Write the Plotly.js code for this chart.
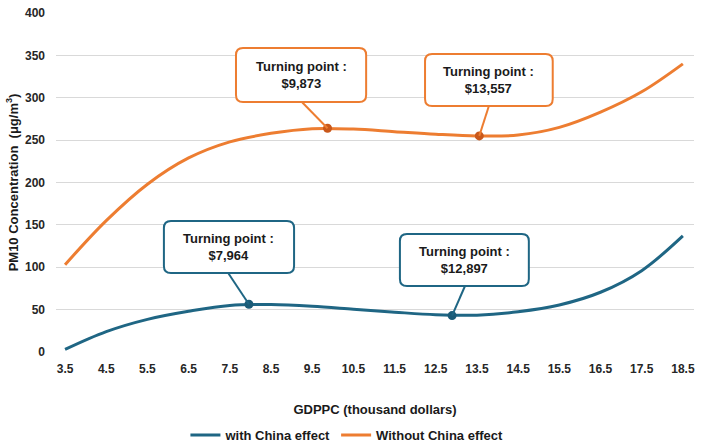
<!DOCTYPE html>
<html>
<head>
<meta charset="utf-8">
<script src="https://cdn.plot.ly/plotly-3.0.1.min.js"></script>
<style>html,body{margin:0;padding:0;background:#fff;}#chart{width:703px;height:447px;}</style>
</head>
<body>
<div id="chart"></div>
<script>
// ---- data ----
const gdppc = [3.5, 4.5, 5.5, 6.5, 7.5, 8.5, 9.5, 10.5, 11.5, 12.5, 13.5, 14.5, 15.5, 16.5, 17.5, 18.5];
const withChina = [3, 24, 38.5, 48, 55, 56, 54, 50.5, 47, 44, 43.5, 47.5, 55.5, 70.5, 96, 137];
const withoutChina = [103, 155, 198, 229, 248, 258, 263.5, 263, 260, 257, 255, 256, 265, 283, 307, 340];
const seriesNames = ["with China effect", "Without China effect"];
const turnWithX = [7.964, 12.897];
const turnWithY = [56.3, 43];
const turnWithoutX = [9.873, 13.557];
const turnWithoutY = [264, 255];
const turnWithLabels = ["Turning point :<br>$7,964", "Turning point :<br>$12,897"];
const turnWithoutLabels = ["Turning point :<br>$9,873", "Turning point :<br>$13,557"];
const yTicks = [0, 50, 100, 150, 200, 250, 300, 350, 400];

// ---- styles ----
const BLUE = "#1f6684";
const BLUE_DARK = "#1b5b77";
const ORANGE = "#ed7d31";
const ORANGE_DARK = "#c9581b";
const FONT = "'Liberation Sans Narrow', 'Arial Narrow', 'Liberation Sans', Arial, sans-serif";

// callout boxes (placement of the boxes in data coordinates)
const callouts = [
  {box: [7.65, 10.81, 295, 358.7], tail: [9.25, 295], tx: 9.23, ty: 327, color: ORANGE, px: turnWithoutX[0], py: turnWithoutY[0], text: turnWithoutLabels[0]},
  {box: [12.24, 15.34, 290.3, 351.6], tail: [13.79, 290.3], tx: 13.79, ty: 321, color: ORANGE, px: turnWithoutX[1], py: turnWithoutY[1], text: turnWithoutLabels[1]},
  {box: [5.90, 9.06, 93.2, 154.6], tail: [7.46, 93.2], tx: 7.48, ty: 124, color: BLUE, px: turnWithX[0], py: turnWithY[0], text: turnWithLabels[0]},
  {box: [11.63, 14.76, 77.9, 139.2], tail: [13.21, 77.9], tx: 13.2, ty: 108.6, color: BLUE, px: turnWithX[1], py: turnWithY[1], text: turnWithLabels[1]}
];

function roundRect(x0, x1, y0, y1, rx, ry) {
  return `M ${x0+rx},${y1} L ${x1-rx},${y1} Q ${x1},${y1} ${x1},${y1-ry} L ${x1},${y0+ry} Q ${x1},${y0} ${x1-rx},${y0} L ${x0+rx},${y0} Q ${x0},${y0} ${x0},${y0+ry} L ${x0},${y1-ry} Q ${x0},${y1} ${x0+rx},${y1} Z`;
}

const traces = [
  {x: gdppc, y: withChina, name: seriesNames[0], type: "scatter", mode: "lines",
   line: {color: BLUE, width: 3, shape: "spline", smoothing: 1}},
  {x: gdppc, y: withoutChina, name: seriesNames[1], type: "scatter", mode: "lines",
   line: {color: ORANGE, width: 3, shape: "spline", smoothing: 1}},
  {x: turnWithX, y: turnWithY, type: "scatter", mode: "markers", showlegend: false, hoverinfo: "skip",
   marker: {color: BLUE_DARK, size: 9}},
  {x: turnWithoutX, y: turnWithoutY, type: "scatter", mode: "markers", showlegend: false, hoverinfo: "skip",
   marker: {color: ORANGE_DARK, size: 9}}
];

const shapes = [];
const annotations = [];
callouts.forEach(c => {
  shapes.push({type: "line", xref: "x", yref: "y", x0: c.tail[0], y0: c.tail[1], x1: c.px, y1: c.py,
    line: {color: c.color, width: 2}, layer: "above"});
  shapes.push({type: "path", xref: "x", yref: "y", path: roundRect(c.box[0], c.box[1], c.box[2], c.box[3], 0.17, 8.3),
    line: {color: c.color, width: 2}, fillcolor: "#ffffff", layer: "above"});
  annotations.push({x: c.tx, y: c.ty, xref: "x", yref: "y", text: "<b>" + c.text.replace("<br>", "</b><br><b>") + "</b>",
    showarrow: false, font: {family: FONT, size: 13, color: "#1a1a1a"}, align: "center"});
});

const layout = {
  width: 703, height: 447,
  margin: {l: 56, r: 9, t: 13, b: 95, autoexpand: false},
  paper_bgcolor: "#ffffff", plot_bgcolor: "#ffffff",
  font: {family: FONT, color: "#262626"},
  xaxis: {range: [3.28, 18.77], tickvals: gdppc, ticktext: gdppc.map(v => v.toFixed(1)),
    showgrid: false, zeroline: false, showline: false, ticks: "", automargin: false, ticklabelstandoff: 8,
    tickfont: {family: FONT, size: 12, color: "#262626", weight: "bold"},
    title: {text: "<b>GDPPC (thousand dollars)</b>", font: {family: FONT, size: 13, color: "#1a1a1a"}, standoff: 29}},
  yaxis: {range: [0, 400], tickvals: yTicks, showgrid: true, gridcolor: "#d9d9d9", gridwidth: 1,
    zeroline: false, showline: false, ticks: "", automargin: false, ticklabelstandoff: 10,
    tickfont: {family: FONT, size: 12, color: "#262626", weight: "bold"},
    title: {text: "<b>PM10 Concentration  (μg/m<sup>3</sup>)</b>", font: {family: FONT, size: 13, color: "#1a1a1a"}, standoff: 3}},
  legend: {orientation: "h", x: 0.456, xanchor: "center", y: -0.245, yanchor: "middle",
    font: {family: FONT, size: 13, color: "#1a1a1a", weight: "bold"}, itemwidth: 30, tracegroupgap: 0},
  shapes: shapes,
  annotations: annotations,
  showlegend: true
};

Plotly.newPlot("chart", traces, layout, {displayModeBar: false, staticPlot: true});
</script>
</body>
</html>
